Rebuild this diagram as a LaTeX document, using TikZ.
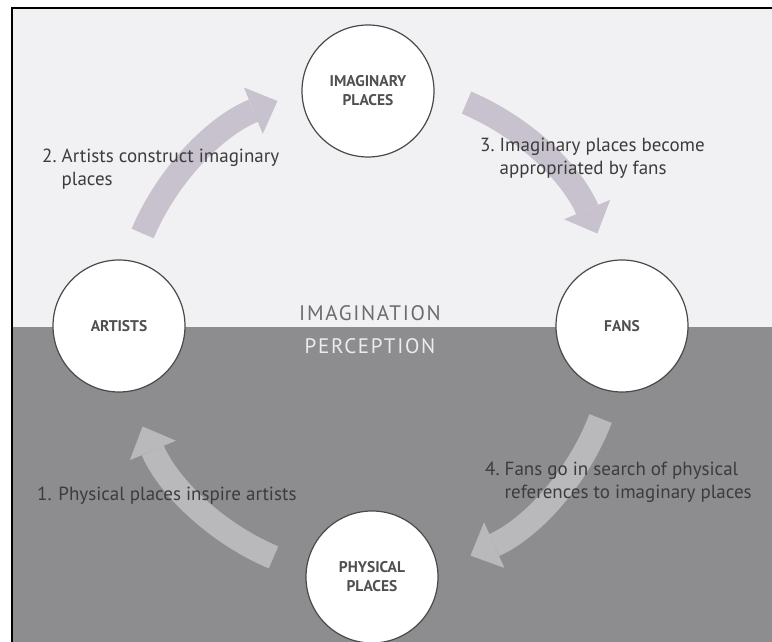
\documentclass[tikz,border=0pt]{standalone}
\usepackage{fontspec}
\setmainfont{PT Sans}
\usetikzlibrary{arrows.meta,calc}
\definecolor{bglight}{HTML}{F1F1F3}
\definecolor{bgdark}{HTML}{8D8C8E}
\definecolor{arrowlight}{HTML}{C7C2CE}
\definecolor{arrowdark}{HTML}{B9B8BB}
\definecolor{txt}{HTML}{3C3C3C}
\definecolor{ctxt}{HTML}{505050}
\definecolor{rim}{HTML}{4A4A4A}
\definecolor{imagtxt}{HTML}{6C6C6C}
\definecolor{perctxt}{HTML}{ECECEC}
\tikzset{
  place/.style={circle, draw=rim, line width=1.2pt, fill=white, minimum size=132pt,
    inner sep=0pt, align=center, font=\bfseries\fontsize{15.5}{19}\selectfont, text=ctxt},
  bigarrow/.style={line width=24pt, -{Triangle[width=50pt,length=26pt,line width=0pt]}},
  lab/.style={text=txt, font=\fontsize{19}{23.5}\selectfont, inner sep=0pt, anchor=base west},
  zone/.style={font=\fontsize{21}{25}\selectfont\addfontfeatures{LetterSpace=8}, inner sep=0pt}
}
\begin{document}
\begin{tikzpicture}[x=1pt,y=1pt]
\useasboundingbox (0,0) rectangle (772,642);
\fill[white] (0,0) rectangle (772,642);
\fill[bglight] (12,315) rectangle (772,634);
\fill[bgdark] (12,0) rectangle (772,315);
\draw[black, line width=2.2pt, line join=miter] (12,0) -- (12,634) -- (772,634);

\node[zone, text=imagtxt] (imagination) at (370,329) {IMAGINATION};
\node[zone, text=perctxt] (perception) at (370,296) {PERCEPTION};

\coordinate (C) at (370,312);
\coordinate (a1s) at ($(C)+(-113:247)$);
\coordinate (a2s) at ($(C)+(157:247)$);
\coordinate (a3s) at ($(C)+(67:247)$);
\coordinate (a4s) at ($(C)+(-21:247)$);
\draw[bigarrow, draw=arrowdark] (a1s) arc[start angle=-113, end angle=-157, radius=247];
\draw[bigarrow, draw=arrowlight] (a2s) arc[start angle=157, end angle=112, radius=247];
\draw[bigarrow, draw=arrowlight] (a3s) arc[start angle=67, end angle=23, radius=247];
\draw[bigarrow, draw=arrowdark] (a4s) arc[start angle=-21, end angle=-66, radius=247];

\node[place] (artists) at (119,316) {ARTISTS};
\node[place] (imag) at (368,551) {IMAGINARY\\PLACES};
\node[place] (fans) at (622,316) {FANS};
\node[place] (phys) at (372,65) {PHYSICAL\\PLACES};

\node[lab] (l2) at (42,479.5) {\begin{tabular}[t]{@{}l@{\ }l@{}}2. & Artists construct imaginary\\ & places\end{tabular}};
\node[lab] (l3) at (480,490.5) {\begin{tabular}[t]{@{}l@{\ }l@{}}3. & Imaginary places become\\ & appropriated by fans\end{tabular}};
\node[lab] (l1) at (37,141) {1. Physical places inspire artists};
\node[lab] (l4) at (485,166.5) {\begin{tabular}[t]{@{}l@{\ }l@{}}4. & Fans go in search of physical\\ & references to imaginary places\end{tabular}};
\end{tikzpicture}
\end{document}
